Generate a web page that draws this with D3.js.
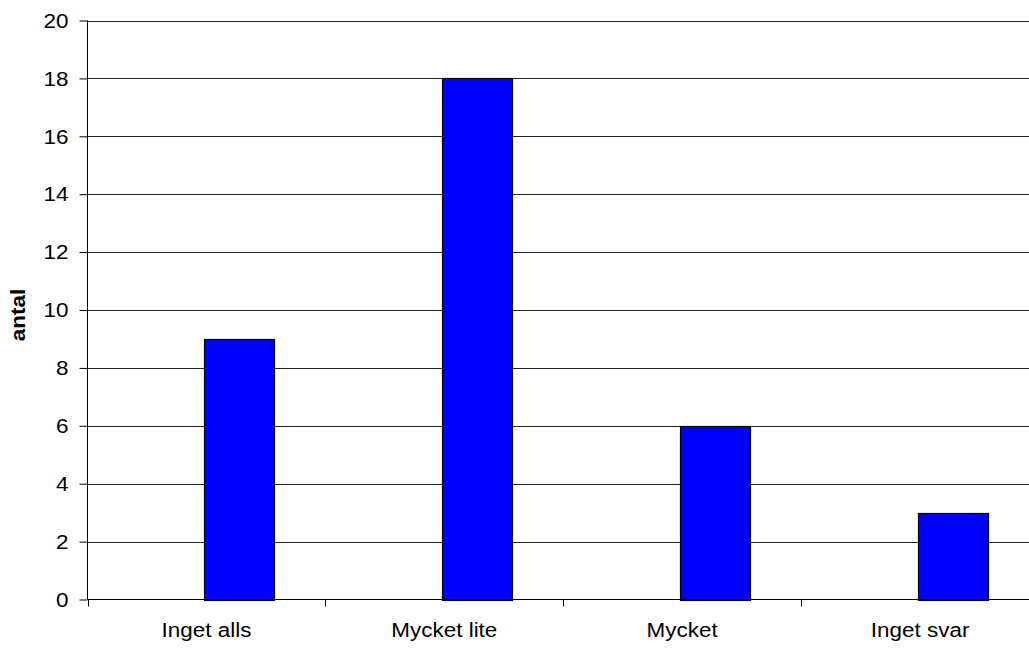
<!DOCTYPE html>
<html>
<head>
<meta charset="utf-8">
<script src="https://cdn.jsdelivr.net/npm/d3@7"></script>
<style>
html,body{margin:0;padding:0;background:#fff;}
svg{display:block;}
text{font-family:"Liberation Sans",Arial,sans-serif;fill:#000;}
</style>
</head>
<body>
<svg id="chart" width="1029" height="648"></svg>
<script>
const categories = ["Inget alls", "Mycket lite", "Mycket", "Inget svar"];
const values = [9, 18, 6, 3];
const yTicks = [0, 2, 4, 6, 8, 10, 12, 14, 16, 18, 20];
const yTitle = "antal";

(function () {
const svg = d3.select("#chart");
const pLeft = 87.5, pRight = 1039, pTop = 20.5, pBottom = 599.5;
const fs = 21, sx = 1.07;

const x = d3.scaleBand().domain(categories).range([pLeft, pRight]).padding(0);
const slot = d3.scaleBand().domain(["empty", "value"]).range([0, x.bandwidth()])
  .paddingInner(0).paddingOuter(0.698).align(0.48);
const y = d3.scaleLinear().domain([0, 20]).range([pBottom, pTop]);

// gridlines
svg.append("g").selectAll("line").data(yTicks.filter(d => d > 0)).join("line")
  .attr("x1", pLeft).attr("x2", pRight)
  .attr("y1", d => Math.round(y(d)) + 0.5).attr("y2", d => Math.round(y(d)) + 0.5)
  .attr("stroke", "#222").attr("stroke-width", 1);

// bars
svg.append("g").selectAll("rect").data(categories).join("rect")
  .attr("x", (d) => Math.round(x(d) + slot("value")) + 0.5)
  .attr("y", (d, i) => Math.round(y(values[i])) + 0.5)
  .attr("width", Math.round(slot.bandwidth()))
  .attr("height", (d, i) => Math.round(y(0)) - Math.round(y(values[i])))
  .attr("fill", "#0000ff").attr("stroke", "#000").attr("stroke-width", 1.2);

// y axis
const yAxis = d3.axisLeft(y).tickValues(yTicks).tickSize(8).tickPadding(11).tickFormat(d3.format("d"));
const gy = svg.append("g").attr("transform", `translate(${pLeft},0)`).call(yAxis);
gy.select(".domain").attr("stroke", "#000").attr("d", `M0,${pTop}V${pBottom}`);
gy.selectAll(".tick line").attr("stroke", "#000");
gy.selectAll(".tick text").attr("font-size", fs).attr("fill", "#000")
  .style("font-family", '"Liberation Sans",Arial,sans-serif')
  .attr("transform", function () { const xx = +d3.select(this).attr("x"); return `translate(${xx},0) scale(${sx},1) translate(${-xx},0)`; });

// x axis baseline + ticks at band boundaries
const boundaries = categories.map(c => x(c)).concat([pRight]);
svg.append("line").attr("x1", pLeft).attr("x2", pRight).attr("y1", pBottom).attr("y2", pBottom)
  .attr("stroke", "#000");
svg.append("g").selectAll("line").data(boundaries).join("line")
  .attr("x1", d => Math.round(d) + 0.5).attr("x2", d => Math.round(d) + 0.5)
  .attr("y1", pBottom).attr("y2", pBottom + 7).attr("stroke", "#000");

// x labels
svg.append("g").selectAll("text").data(categories).join("text")
  .attr("transform", d => `translate(${x(d) + x.bandwidth() / 2},637) scale(${sx},1)`)
  .attr("text-anchor", "middle").attr("font-size", fs).text(d => d);

// y title
svg.append("text").attr("transform", `translate(25,${(pTop + pBottom) / 2 + 5}) rotate(-90) scale(${sx},1)`)
  .attr("text-anchor", "middle").attr("font-size", fs).attr("font-weight", "bold").text(yTitle);
})();
</script>
</body>
</html>
